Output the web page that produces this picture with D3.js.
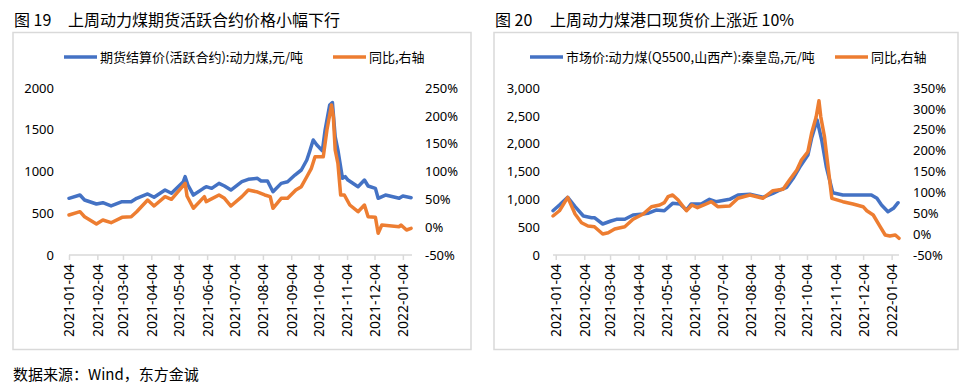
<!DOCTYPE html>
<html><head><meta charset="utf-8">
<script src="https://cdn.jsdelivr.net/npm/d3@7"></script>
<style>
html,body{margin:0;padding:0;background:#fff;}
svg{display:block;font-family:"Noto Sans CJK SC","Noto Sans",sans-serif;}
</style></head>
<body><svg id="c" width="974" height="387"></svg>
<script>
// ---------- data ----------
const titles = ["图 19", "图 20"];
const subtitles = ["上周动力煤期货活跃合约价格小幅下行", "上周动力煤港口现货价上涨近 10%"];
const legendLeft = ["期货结算价(活跃合约):动力煤,元/吨", "市场价:动力煤(Q5500,山西产):秦皇岛,元/吨"];
const legendRight = ["同比,右轴", "同比,右轴"];
const sourceText = "数据来源：Wind，东方金诚";
const tickDates = ["2021-01-04","2021-02-04","2021-03-04","2021-04-04","2021-05-04","2021-06-04","2021-07-04","2021-08-04","2021-09-04","2021-10-04","2021-11-04","2021-12-04","2022-01-04"];
const leftTicks1 = [0,500,1000,1500,2000];
const rightTicks1 = [-50,0,50,100,150,200,250];
const leftTicks2 = [0,500,1000,1500,2000,2500,3000];
const rightTicks2 = [-50,0,50,100,150,200,250,300,350];

const futuresDates = ["2021-01-04","2021-01-16","2021-01-21","2021-02-03","2021-02-10","2021-02-19","2021-03-03","2021-03-13","2021-03-19","2021-03-31","2021-04-07","2021-04-19","2021-04-26","2021-05-09","2021-05-11","2021-05-14","2021-05-20","2021-05-31","2021-06-03","2021-06-09","2021-06-17","2021-06-23","2021-06-30","2021-07-12","2021-07-19","2021-07-29","2021-08-02","2021-08-09","2021-08-15","2021-08-24","2021-08-31","2021-09-08","2021-09-15","2021-09-21","2021-09-24","2021-09-28","2021-10-02","2021-10-08","2021-10-11","2021-10-16","2021-10-19","2021-10-22","2021-10-25","2021-10-30","2021-11-02","2021-11-05","2021-11-16","2021-11-23","2021-11-27","2021-12-05","2021-12-08","2021-12-16","2021-12-31","2022-01-04","2022-01-13"];
const futuresPrice = [679,718,659,611,626,587,638,638,679,731,691,778,739,878,938,838,718,798,818,798,858,826,778,878,906,918,886,886,758,858,878,958,1018,1138,1237,1377,1317,1249,1497,1796,1826,1417,1257,918,938,898,818,898,826,798,679,718,679,706,686];
const futuresYoYDates = ["2021-01-04","2021-01-16","2021-01-21","2021-02-03","2021-02-10","2021-02-19","2021-03-03","2021-03-13","2021-03-19","2021-03-31","2021-04-07","2021-04-19","2021-04-26","2021-05-11","2021-05-13","2021-05-20","2021-06-01","2021-06-03","2021-06-17","2021-06-23","2021-06-30","2021-07-12","2021-07-19","2021-07-28","2021-08-06","2021-08-12","2021-08-15","2021-08-24","2021-08-31","2021-09-09","2021-09-15","2021-09-21","2021-09-26","2021-09-30","2021-10-09","2021-10-13","2021-10-18","2021-10-20","2021-10-22","2021-10-25","2021-10-28","2021-11-01","2021-11-07","2021-11-16","2021-11-23","2021-11-27","2021-12-05","2021-12-08","2021-12-12","2021-12-31","2022-01-02","2022-01-08","2022-01-13"];
const futuresYoY = [21.9,27.8,18.8,5.7,12.9,8,17.7,18.8,27.8,48.8,38,54.8,50,78.8,56,33.9,54.8,45.8,57.8,51.8,38,54.8,66.8,63.7,57.8,54.8,33.9,51.8,51.8,66.8,72.7,90.6,105.7,126.6,126.6,174.5,219.4,198.4,138.6,114.7,57.8,57.8,39.8,27.8,39.8,18.8,17.7,-11,3.9,0.9,3.9,-5.1,-2];

const spotDates = ["2021-01-01","2021-01-08","2021-01-17","2021-01-25","2021-02-03","2021-02-12","2021-02-15","2021-02-24","2021-03-05","2021-03-11","2021-03-20","2021-03-29","2021-04-09","2021-04-14","2021-04-23","2021-05-02","2021-05-11","2021-05-19","2021-05-26","2021-05-31","2021-06-11","2021-06-20","2021-06-27","2021-07-12","2021-07-21","2021-08-03","2021-08-17","2021-08-28","2021-09-03","2021-09-12","2021-09-19","2021-09-26","2021-10-05","2021-10-09","2021-10-15","2021-10-20","2021-10-25","2021-11-01","2021-11-12","2021-12-13","2021-12-19","2021-12-24","2021-12-31","2022-01-06","2022-01-11"];
const spotPrice = [796,898,1036,868,700,670,670,557,611,641,641,718,736,748,808,796,928,916,808,916,916,1000,958,1000,1078,1090,1036,1108,1155,1216,1378,1575,1796,2096,2425,2065,1586,1119,1078,1078,1018,898,778,838,939];
const spotYoYDates = ["2021-01-01","2021-01-08","2021-01-17","2021-01-25","2021-02-01","2021-02-08","2021-02-15","2021-02-24","2021-03-02","2021-03-09","2021-03-20","2021-03-29","2021-04-09","2021-04-18","2021-04-27","2021-05-02","2021-05-06","2021-05-11","2021-05-17","2021-05-26","2021-06-01","2021-06-07","2021-06-14","2021-06-22","2021-06-29","2021-07-12","2021-07-21","2021-08-03","2021-08-17","2021-08-28","2021-09-08","2021-09-15","2021-09-23","2021-09-28","2021-10-05","2021-10-09","2021-10-14","2021-10-17","2021-10-19","2021-10-23","2021-10-31","2021-11-12","2021-11-23","2021-12-04","2021-12-08","2021-12-15","2021-12-22","2021-12-28","2022-01-02","2022-01-08","2022-01-12"];
const spotYoY = [43.4,56,88,48.2,27.4,19.5,17.8,0.3,3.4,12.3,17.8,35.5,48.2,65.7,69.8,75.3,89.6,93.7,81.7,56,69.8,63.3,69.8,77.7,65.7,67.4,85.8,93.7,85.8,104,107.4,129.6,153.6,177.5,197.4,241.5,281.3,319.6,281,233.4,85.8,77.7,72.2,65.7,56,45.8,19.5,-2.1,-4.5,-2.1,-10];

// ---------- drawing ----------
const parse = d3.timeParse("%Y-%m-%d");
const fmtTick = d3.timeFormat("%Y-%m-%d");
const BLUE = "#4472C4", ORANGE = "#ED7D31", GRID = "#d9d9d9";
const svg = d3.select("#c");

function zip(ds, vs){ return ds.map((d,i)=>({date:parse(d), v:vs[i]})); }

function chart(o){
  const g = svg.append("g");
  g.append("text").attr("x", o.panel[0]+1).attr("y", 26).attr("font-size", 16).attr("fill","#000").text(o.title);
  g.append("text").attr("x", o.titleX).attr("y", 26).attr("font-size", 16).attr("fill","#000").text(o.subtitle);
  g.append("rect").attr("x", o.panel[0]).attr("y", 32.5).attr("width", o.panel[1]-o.panel[0]).attr("height", 317)
    .attr("fill","none").attr("stroke", GRID).attr("stroke-width", 1.5);
  const ly = 57;
  g.append("line").attr("x1", o.leg1[0]).attr("x2", o.leg1[0]+33).attr("y1", ly).attr("y2", ly).attr("stroke", BLUE).attr("stroke-width", 3.5);
  g.append("text").attr("x", o.leg1[0]+36).attr("y", ly+4.5).attr("font-size", 13).attr("fill","#000").text(o.legL);
  g.append("line").attr("x1", o.leg2[0]).attr("x2", o.leg2[0]+33).attr("y1", ly).attr("y2", ly).attr("stroke", ORANGE).attr("stroke-width", 3.5);
  g.append("text").attr("x", o.leg2[0]+36).attr("y", ly+4.5).attr("font-size", 13).attr("fill","#000").text(o.legR);

  const x = d3.scaleTime().domain(o.xDomain.map(parse)).range(o.xRange);
  const yL = d3.scaleLinear().domain([o.leftTicks[0], o.leftTicks[o.leftTicks.length-1]]).range([255, 88]);
  const yR = d3.scaleLinear().domain([o.rightTicks[0], o.rightTicks[o.rightTicks.length-1]]).range([255, 88]);

  const xa = g.append("g").attr("transform", "translate(0,255)")
    .call(d3.axisBottom(x).tickValues(tickDates.map(parse)).tickFormat(fmtTick).tickSize(5).tickSizeOuter(0));
  xa.select(".domain").attr("stroke", GRID).attr("stroke-width", 1.5).attr("d", `M${o.xRange[0]},0H${o.xRange[1]}`);
  xa.selectAll(".tick line").attr("stroke", GRID).attr("stroke-width", 1.5);
  xa.selectAll(".tick text").attr("font-size", 14).attr("fill", "#000").attr("font-family","'Noto Sans','DejaVu Sans',sans-serif")
    .attr("transform", "rotate(-90)").attr("text-anchor","end").attr("x", -9).attr("y", 0).attr("dy", "0.35em");

  const la = g.append("g").attr("transform", `translate(${o.leftX},0)`)
    .call(d3.axisLeft(yL).tickValues(o.leftTicks).tickFormat(o.leftFmt).tickSize(0));
  la.select(".domain").remove();
  la.selectAll("text").attr("font-size", 13).attr("fill","#000").attr("font-family","'Noto Sans','DejaVu Sans',sans-serif").attr("x", 0);
  const ra = g.append("g").attr("transform", `translate(${o.rightX},0)`)
    .call(d3.axisRight(yR).tickValues(o.rightTicks).tickFormat(d => d + "%").tickSize(0));
  ra.select(".domain").remove();
  ra.selectAll("text").attr("font-size", 13).attr("fill","#000").attr("font-family","'Noto Sans','DejaVu Sans',sans-serif").attr("x", 0);

  const line = (ys) => d3.line().x(d => x(d.date)).y(d => ys(d.v)).curve(d3.curveLinear);
  g.append("path").datum(o.blue).attr("d", line(yL)).attr("fill","none").attr("stroke", BLUE).attr("stroke-width", 3.5).attr("stroke-linejoin","round").attr("stroke-linecap","round");
  g.append("path").datum(o.orange).attr("d", line(yR)).attr("fill","none").attr("stroke", ORANGE).attr("stroke-width", 3.5).attr("stroke-linejoin","round").attr("stroke-linecap","round");
}

chart({
  title: titles[0], subtitle: subtitles[0], titleX: 68, panel: [13, 471],
  legL: legendLeft[0], legR: legendRight[0], leg1: [64], leg2: [333],
  xDomain: ["2021-01-04","2022-01-14"], xRange: [69, 412],
  leftTicks: leftTicks1, rightTicks: rightTicks1, leftFmt: d3.format("d"),
  leftX: 54, rightX: 425,
  blue: zip(futuresDates, futuresPrice), orange: zip(futuresYoYDates, futuresYoY)
});
chart({
  title: titles[1], subtitle: subtitles[1], titleX: 550, panel: [494, 958],
  legL: legendLeft[1], legR: legendRight[1], leg1: [530], leg2: [835],
  xDomain: ["2021-01-01","2022-01-12"], xRange: [553, 899],
  leftTicks: leftTicks2, rightTicks: rightTicks2, leftFmt: d3.format(","),
  leftX: 540, rightX: 913,
  blue: zip(spotDates, spotPrice), orange: zip(spotYoYDates, spotYoY)
});

svg.append("text").attr("x", 13).attr("y", 380).attr("font-size", 15).attr("fill","#000").text(sourceText);
</script></body></html>
